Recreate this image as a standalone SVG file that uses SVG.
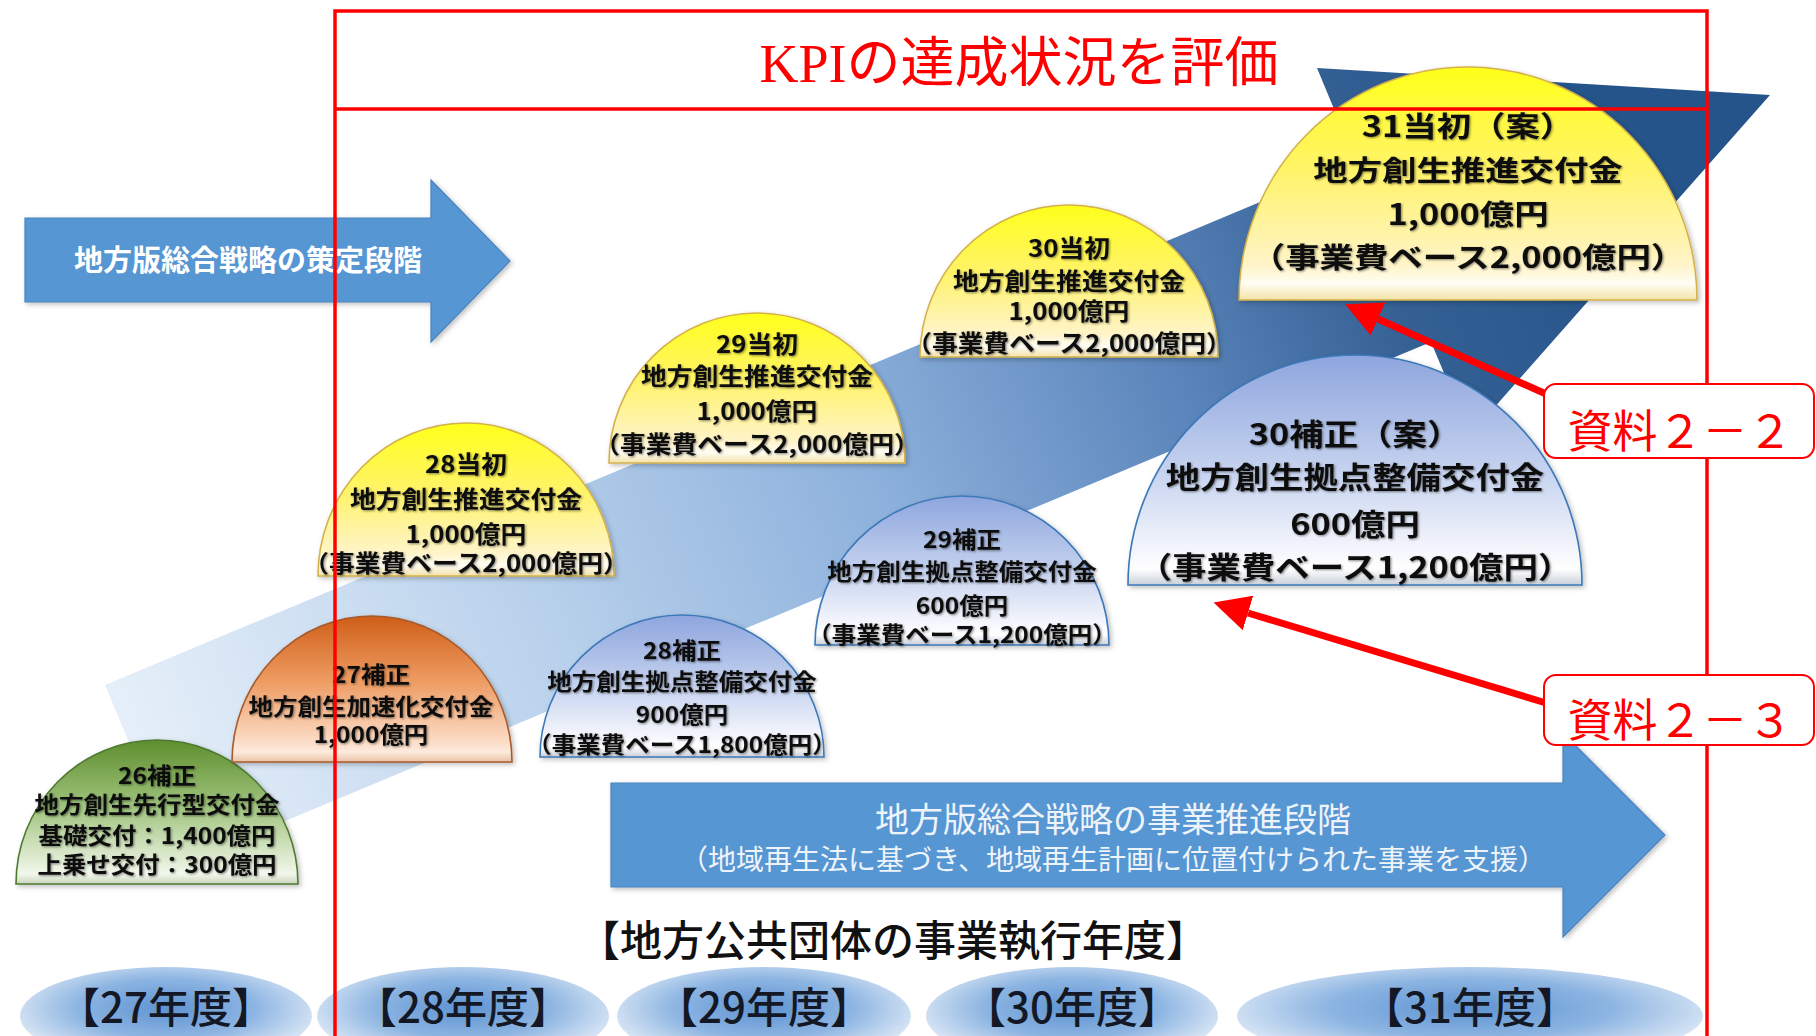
<svg xmlns="http://www.w3.org/2000/svg" width="1816" height="1036" viewBox="0 0 1816 1036">
<defs>
  <linearGradient id="band" gradientUnits="userSpaceOnUse" x1="140" y1="775" x2="1600" y2="170">
    <stop offset="0" stop-color="#E6EFF9"/>
    <stop offset="0.25" stop-color="#BDD4ED"/>
    <stop offset="0.5" stop-color="#8DB1DC"/>
    <stop offset="0.7" stop-color="#5B85BB"/>
    <stop offset="0.85" stop-color="#346094"/>
    <stop offset="1" stop-color="#25548A"/>
  </linearGradient>
  <linearGradient id="gY" x1="0" y1="0" x2="0" y2="1">
    <stop offset="0" stop-color="#FFFF1A"/>
    <stop offset="0.45" stop-color="#FFF36A"/>
    <stop offset="0.85" stop-color="#FFF4C8"/>
    <stop offset="0.93" stop-color="#FFFDF3"/>
    <stop offset="1" stop-color="#F3E2A8"/>
  </linearGradient>
  <linearGradient id="gB" x1="0" y1="0" x2="0" y2="1">
    <stop offset="0" stop-color="#8EA6DE"/>
    <stop offset="0.5" stop-color="#C5D2EF"/>
    <stop offset="0.85" stop-color="#F4F6FC"/>
    <stop offset="0.93" stop-color="#FFFFFF"/>
    <stop offset="1" stop-color="#C9D0DA"/>
  </linearGradient>
  <linearGradient id="gG" x1="0" y1="0" x2="0" y2="1">
    <stop offset="0" stop-color="#5E8E2E"/>
    <stop offset="0.45" stop-color="#9DC27A"/>
    <stop offset="0.85" stop-color="#E3EED7"/>
    <stop offset="0.93" stop-color="#F2F7EC"/>
    <stop offset="1" stop-color="#C9D6BC"/>
  </linearGradient>
  <linearGradient id="gO" x1="0" y1="0" x2="0" y2="1">
    <stop offset="0" stop-color="#CF5E18"/>
    <stop offset="0.45" stop-color="#EE9C63"/>
    <stop offset="0.85" stop-color="#FBDAC3"/>
    <stop offset="0.93" stop-color="#FDEBDD"/>
    <stop offset="1" stop-color="#E9C2A6"/>
  </linearGradient>
  <radialGradient id="ye" cx="0.5" cy="0.42" r="0.55">
    <stop offset="0" stop-color="#5E93D2"/>
    <stop offset="0.55" stop-color="#8DB5E2"/>
    <stop offset="1" stop-color="#DCE8F6"/>
  </radialGradient>
  <filter id="sh" x="-10%" y="-10%" width="130%" height="130%">
    <feDropShadow dx="2" dy="2" stdDeviation="2.5" flood-color="#000" flood-opacity="0.25"/>
  </filter>
  <filter id="ts" x="-5%" y="-20%" width="110%" height="150%">
    <feDropShadow dx="1.2" dy="1.2" stdDeviation="1" flood-color="#000" flood-opacity="0.45"/>
  </filter>
  <marker id="ah" viewBox="0 0 36 36" markerWidth="36" markerHeight="36" refX="0" refY="18" orient="auto" markerUnits="userSpaceOnUse">
    <path d="M0,0 L36,18 L0,36 Z" fill="#FF0000"/>
  </marker>
  <style>
    .jp{font-family:"Noto Sans CJK JP","Noto Sans",sans-serif;}
    .dt{font-family:"Noto Sans CJK JP","Noto Sans",sans-serif;font-weight:700;fill:#111;text-anchor:middle;filter:url(#ts);}
    .s24{font-size:24.5px;}
    .s26{font-size:25.8px;}
    .s34{font-size:34.4px;}
    .ya{fill:url(#gY);stroke:#D4B24C;stroke-width:1.6;filter:url(#sh);}
    .bl{fill:url(#gB);stroke:#3C78B8;stroke-width:1.6;filter:url(#sh);}
    .gr{fill:url(#gG);stroke:#4F7A33;stroke-width:1.6;filter:url(#sh);}
    .or{fill:url(#gO);stroke:#A85A2A;stroke-width:1.6;filter:url(#sh);}
    .arw{fill:#5796D3;stroke:#4A83BD;stroke-width:1.2;filter:url(#sh);}
    .yr{fill:url(#ye);}
    .yt{font-family:"Noto Sans CJK JP","Noto Sans",sans-serif;font-size:42px;font-weight:500;fill:#141824;text-anchor:middle;}
    .frame{fill:none;stroke:#FF0000;stroke-width:3.5;}
    .callout rect{fill:#FFFFFF;stroke:#FF0000;stroke-width:2;}
    .callout text{font-family:"Noto Sans CJK JP","Noto Sans",sans-serif;font-size:45px;fill:#FF0000;text-anchor:middle;}
    .rl{stroke:#FF0000;stroke-width:7;fill:none;}
  </style>
</defs>

<rect x="0" y="0" width="1816" height="1036" fill="#FFFFFF"/>

<!-- big diagonal band arrow -->
<g id="band-arrow">
  <polygon points="105,685 1356,162 1317,68 1770,95 1470,435 1431,342 180,865" fill="url(#band)"/>
</g>

<!-- top arrow: planning stage -->
<g id="arrow-planning">
  <polygon class="arw" points="25,218 431,218 431,180 510,261 431,342 431,302 25,302"/>
  <text class="jp" x="248" y="271" font-size="29" font-weight="700" fill="#FFFFFF" text-anchor="middle">地方版総合戦略の策定段階</text>
</g>

<!-- domes -->
<g id="n26">
  <path class="gr" d="M16,884 A141,144 0 0 1 298,884 Z"/>
  <text class="dt s24" transform="matrix(1 0 0 0.93 157 784)">26補正</text>
  <text class="dt s24" transform="matrix(1 0 0 0.93 157 813)">地方創生先行型交付金</text>
  <text class="dt s24" transform="matrix(1 0 0 0.93 157 844)">基礎交付：1,400億円</text>
  <text class="dt s24" transform="matrix(1 0 0 0.93 157 873)">上乗せ交付：300億円</text>
</g>
<g id="n27">
  <path class="or" d="M232,762 A140,146 0 0 1 512,762 Z"/>
  <text class="dt s24" transform="matrix(1 0 0 0.93 371 683)">27補正</text>
  <text class="dt s24" transform="matrix(1 0 0 0.93 371 715)">地方創生加速化交付金</text>
  <text class="dt s24" transform="matrix(1 0 0 0.93 371 743)">1,000億円</text>
</g>
<g id="n28a">
  <path class="ya" d="M318,576 A148,153 0 0 1 614,576 Z"/>
  <text class="dt s26" transform="matrix(1 0 0 0.92 466 473)">28当初</text>
  <text class="dt s26" transform="matrix(1 0 0 0.92 466 508)">地方創生推進交付金</text>
  <text class="dt s26" transform="matrix(1 0 0 0.92 466 543)">1,000億円</text>
  <text class="dt s26" transform="matrix(1 0 0 0.92 466 572)">（事業費ベース2,000億円）</text>
</g>
<g id="n28h">
  <path class="bl" d="M540,757 A142,142 0 0 1 824,757 Z"/>
  <text class="dt s24" transform="matrix(1 0 0 0.93 682 659)">28補正</text>
  <text class="dt s24" transform="matrix(1 0 0 0.93 682 690)">地方創生拠点整備交付金</text>
  <text class="dt s24" transform="matrix(1 0 0 0.93 682 723)">900億円</text>
  <text class="dt s24" transform="matrix(1 0 0 0.93 682 753)">（事業費ベース1,800億円）</text>
</g>
<g id="n29a">
  <path class="ya" d="M609,463 A148,150 0 0 1 905,463 Z"/>
  <text class="dt s26" transform="matrix(1 0 0 0.92 757 353)">29当初</text>
  <text class="dt s26" transform="matrix(1 0 0 0.92 757 385)">地方創生推進交付金</text>
  <text class="dt s26" transform="matrix(1 0 0 0.92 757 420)">1,000億円</text>
  <text class="dt s26" transform="matrix(1 0 0 0.92 757 453)">（事業費ベース2,000億円）</text>
</g>
<g id="n29h">
  <path class="bl" d="M815,645 A147,149 0 0 1 1109,645 Z"/>
  <text class="dt s24" transform="matrix(1 0 0 0.93 962 548)">29補正</text>
  <text class="dt s24" transform="matrix(1 0 0 0.93 962 580)">地方創生拠点整備交付金</text>
  <text class="dt s24" transform="matrix(1 0 0 0.93 962 614)">600億円</text>
  <text class="dt s24" transform="matrix(1 0 0 0.93 962 643)">（事業費ベース1,200億円）</text>
</g>
<g id="n30a">
  <path class="ya" d="M920,357 A149,152 0 0 1 1218,357 Z"/>
  <text class="dt s26" transform="matrix(1 0 0 0.92 1069 257)">30当初</text>
  <text class="dt s26" transform="matrix(1 0 0 0.92 1069 290)">地方創生推進交付金</text>
  <text class="dt s26" transform="matrix(1 0 0 0.92 1069 320)">1,000億円</text>
  <text class="dt s26" transform="matrix(1 0 0 0.92 1069 352)">（事業費ベース2,000億円）</text>
</g>
<g id="n30h">
  <path class="bl" d="M1128,585 A227,230 0 0 1 1582,585 Z"/>
  <text class="dt s34" transform="matrix(1 0 0 0.86 1355 445)">30補正（案）</text>
  <text class="dt s34" transform="matrix(1 0 0 0.86 1355 488)">地方創生拠点整備交付金</text>
  <text class="dt s34" transform="matrix(1 0 0 0.86 1355 535)">600億円</text>
  <text class="dt s34" transform="matrix(1 0 0 0.86 1355 578)">（事業費ベース1,200億円）</text>
</g>
<g id="n31a">
  <path class="ya" d="M1239,300 A229,233 0 0 1 1697,300 Z"/>
  <text class="dt s34" transform="matrix(1 0 0 0.84 1468 137)">31当初（案）</text>
  <text class="dt s34" transform="matrix(1 0 0 0.84 1468 181)">地方創生推進交付金</text>
  <text class="dt s34" transform="matrix(1 0 0 0.84 1468 225)">1,000億円</text>
  <text class="dt s34" transform="matrix(1 0 0 0.84 1468 268)">（事業費ベース2,000億円）</text>
</g>

<!-- bottom arrow: implementation stage -->
<g id="arrow-implementation">
  <polygon class="arw" points="611,783 1563,783 1563,733 1665,835 1563,937 1563,887 611,887"/>
  <text class="jp" x="1113" y="832" font-size="34" fill="#EEF3FA" text-anchor="middle">地方版総合戦略の事業推進段階</text>
  <text class="jp" x="1113" y="870" font-size="28" fill="#EEF3FA" text-anchor="middle">（地域再生法に基づき、地域再生計画に位置付けられた事業を支援）</text>
</g>

<g id="fiscal-label">
  <text class="jp" x="893" y="956" font-size="42" font-weight="500" fill="#111" text-anchor="middle">【地方公共団体の事業執行年度】</text>
</g>

<!-- year ellipses -->
<g id="y27"><ellipse class="yr" cx="166" cy="1016" rx="146" ry="49"/><text class="yt" x="166" y="1023">【27年度】</text></g>
<g id="y28"><ellipse class="yr" cx="463" cy="1016" rx="146" ry="49"/><text class="yt" x="463" y="1023">【28年度】</text></g>
<g id="y29"><ellipse class="yr" cx="764" cy="1016" rx="147" ry="49"/><text class="yt" x="764" y="1023">【29年度】</text></g>
<g id="y30"><ellipse class="yr" cx="1072" cy="1016" rx="146" ry="49"/><text class="yt" x="1072" y="1023">【30年度】</text></g>
<g id="y31"><ellipse class="yr" cx="1470" cy="1016" rx="233" ry="49"/><text class="yt" x="1470" y="1023">【31年度】</text></g>

<!-- KPI frame -->
<g id="kpi-frame">
  <rect class="frame" x="335" y="11" width="1372" height="1040"/>
  <line class="frame" x1="335" y1="109" x2="1707" y2="109"/>
  <text x="1019" y="82" font-family="'Liberation Serif','Noto Sans CJK JP',serif" font-size="54" fill="#FF0000" text-anchor="middle">KPIの達成状況を評価</text>
</g>

<!-- connectors -->
<g id="connectors">
  <line class="rl" x1="1546" y1="394" x2="1378" y2="319" marker-end="url(#ah)"/>
  <line class="rl" x1="1546" y1="703" x2="1248" y2="613" marker-end="url(#ah)"/>
</g>

<g id="doc22" class="callout">
  <rect x="1544" y="384" width="270" height="74" rx="12"/>
  <text x="1680" y="448">資料２－２</text>
</g>
<g id="doc23" class="callout">
  <rect x="1544" y="675" width="270" height="70" rx="12"/>
  <text x="1680" y="737">資料２－３</text>
</g>
</svg>
